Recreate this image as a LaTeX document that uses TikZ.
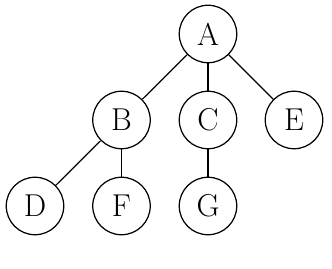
\documentclass[tikz,border=0pt]{standalone}
\usepackage{tikz}
\usetikzlibrary{positioning}

\begin{document}
\begin{tikzpicture}[font=\fontsize{18}{21}\selectfont,
    vertex/.style={draw, circle, minimum size=1.15cm, inner sep=0pt, line width=0.7pt},
    edge/.style={line width=0.7pt}]
    \useasboundingbox (0,0) rectangle (6.64,-5.38);
    \node[vertex] (A) at (4.16,-0.68) {A};
    \node[vertex] (B) at (2.43,-2.40) {B};
    \node[vertex] (C) at (4.16,-2.40) {C};
    \node[vertex] (E) at (5.88,-2.40) {E};
    \node[vertex] (D) at (0.70,-4.12) {D};
    \node[vertex] (F) at (2.43,-4.12) {F};
    \node[vertex] (G) at (4.16,-4.12) {G};
    \draw[edge] (A) -- (B);
    \draw[edge] (A) -- (C);
    \draw[edge] (A) -- (E);
    \draw[edge] (B) -- (D);
    \draw[edge] (B) -- (F);
    \draw[edge] (C) -- (G);
\end{tikzpicture}
\end{document}
